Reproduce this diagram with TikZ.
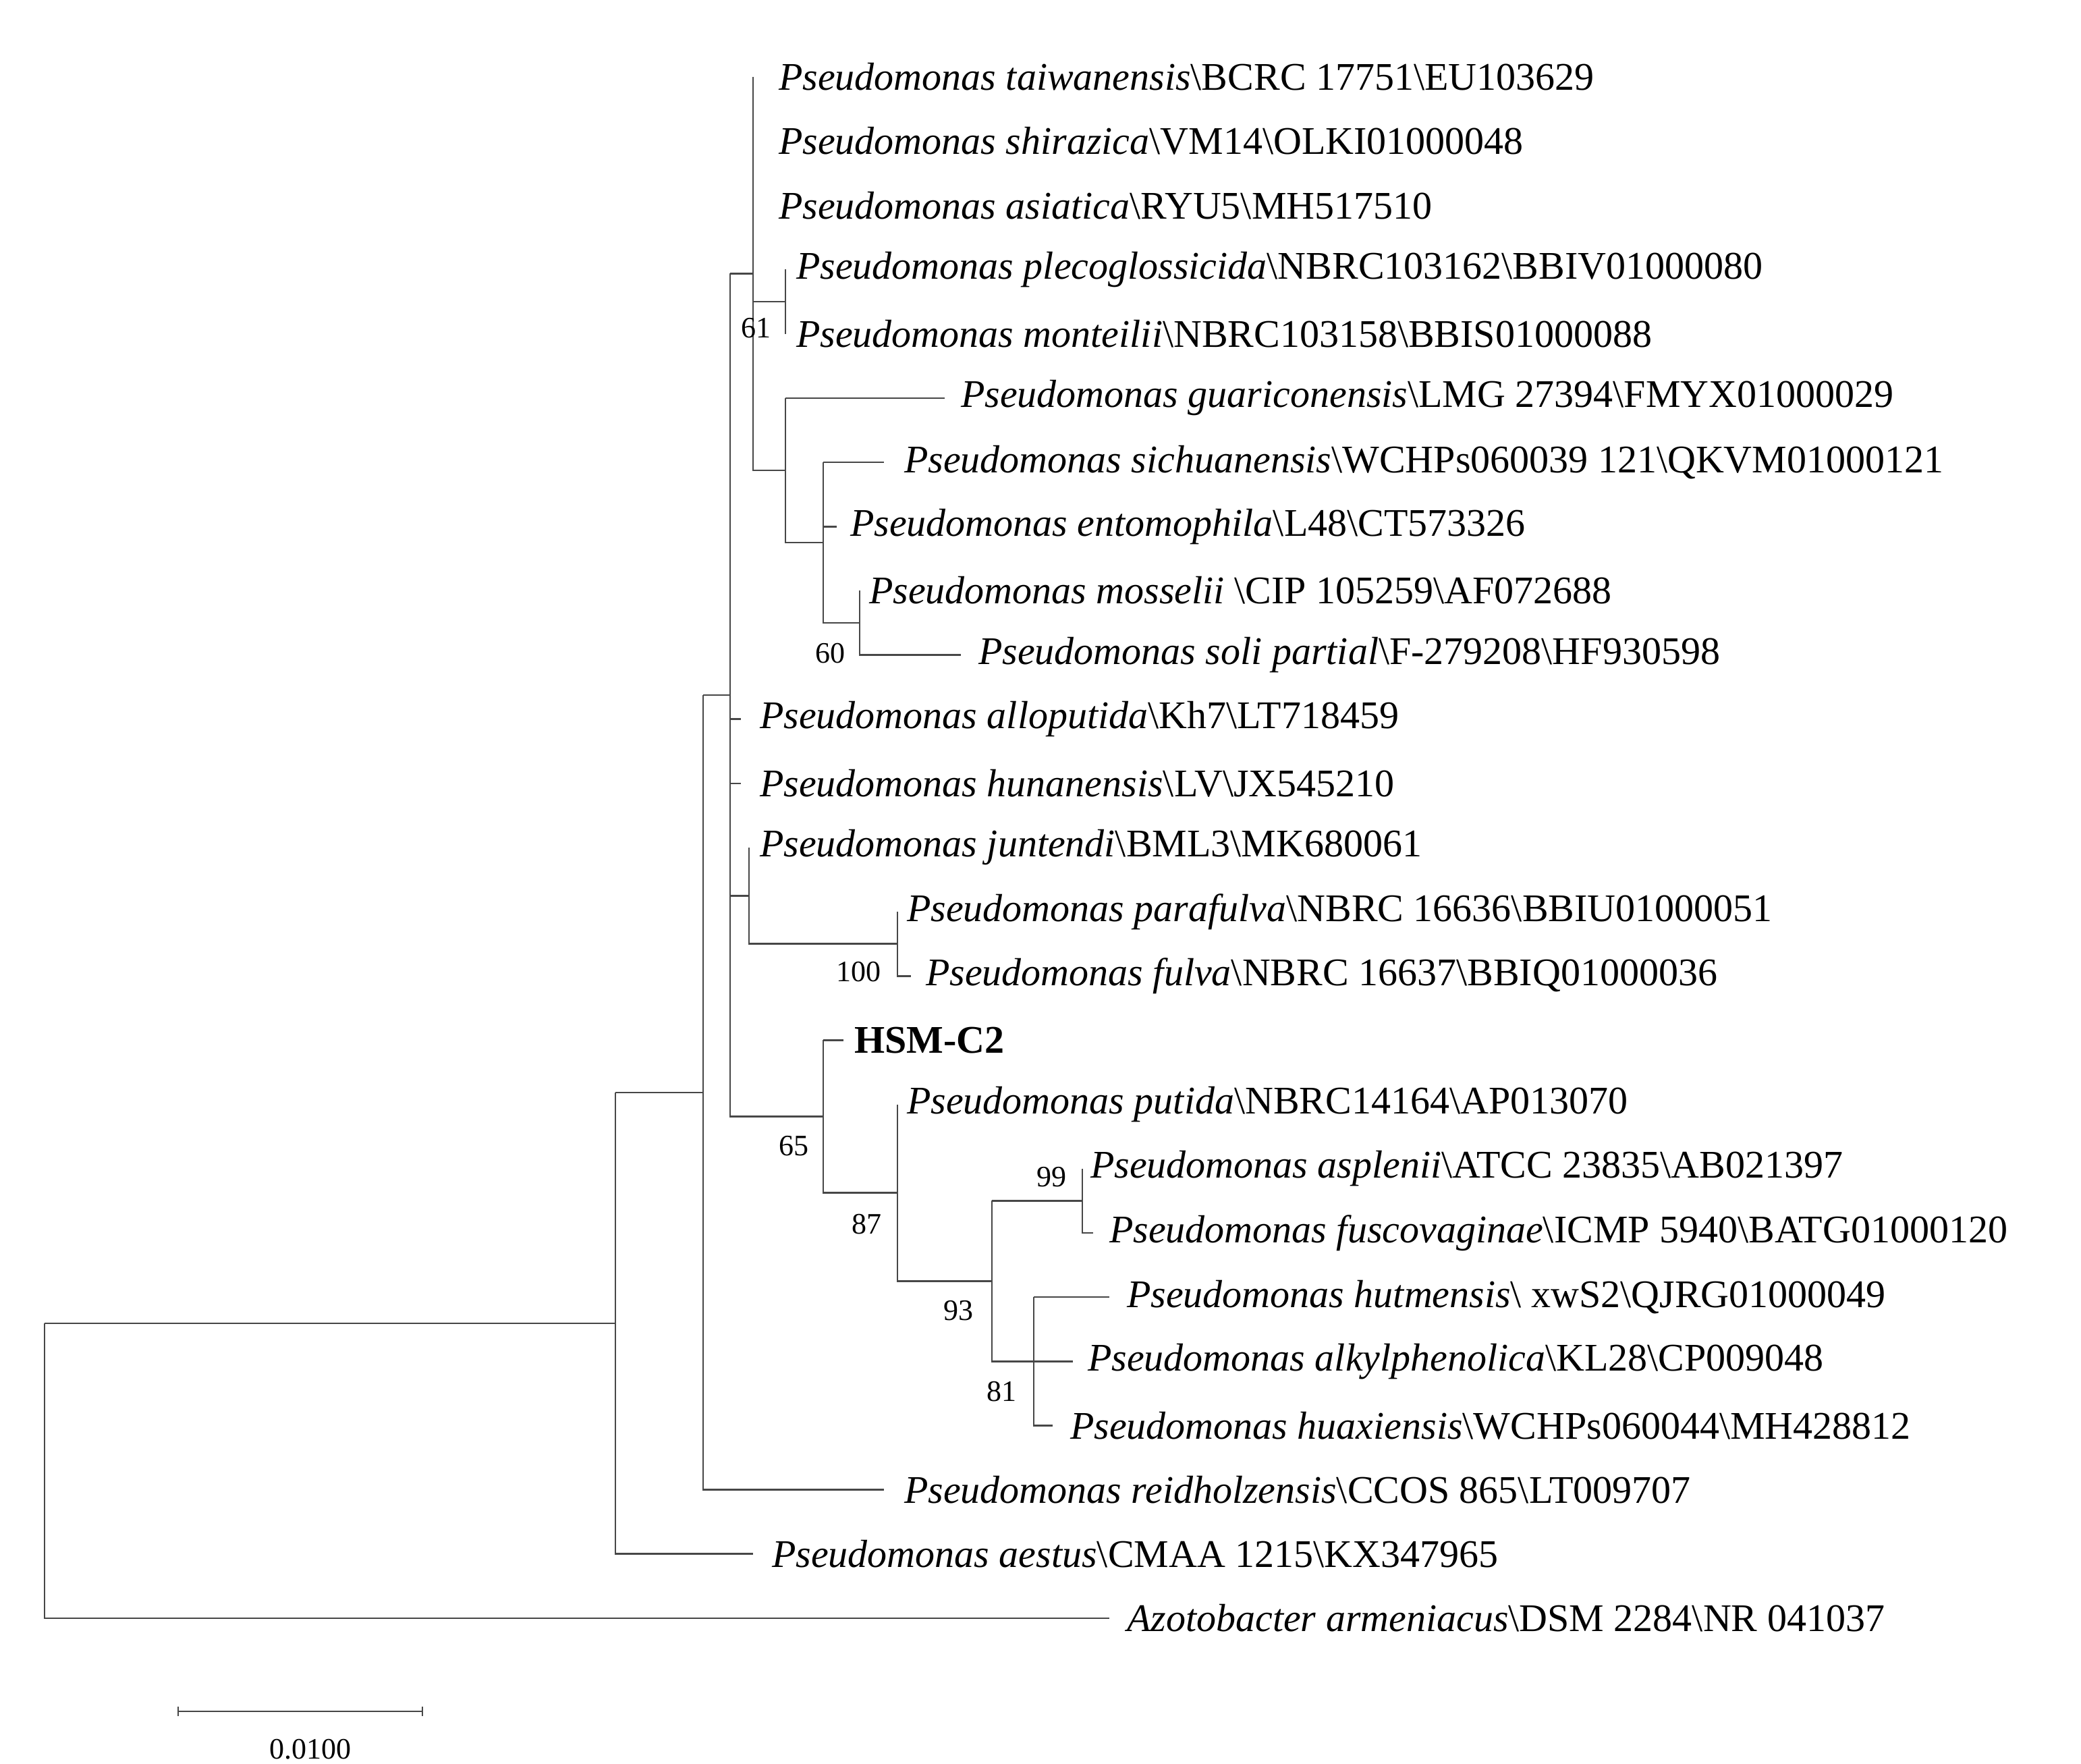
\documentclass[tikz,border=0pt]{standalone}
\usepackage{fontspec}
\setmainfont{Liberation Serif}
\newcommand{\bs}{\textbackslash}
\begin{document}
\begin{tikzpicture}[x=2pt,y=-2pt,
  br/.style={line width=2.6pt,color=black!72},
  leaf/.style={anchor=west,inner sep=0pt,font=\fontsize{58}{70}\selectfont},
  boot/.style={inner sep=0pt,font=\fontsize{44}{52}\selectfont}]
\useasboundingbox (0,0) rectangle (1542,1307);
% leaves
\node[leaf] (l0) at (577,57) {\textit{Pseudomonas taiwanensis}\bs BCRC 17751\bs EU103629};
\node[leaf] (l1) at (577,104.6) {\textit{Pseudomonas shirazica}\bs VM14\bs OLKI01000048};
\node[leaf] (l2) at (577,152.2) {\textit{Pseudomonas asiatica}\bs RYU5\bs MH517510};
\node[leaf] (l3) at (590,199.7) {\textit{Pseudomonas plecoglossicida}\bs NBRC103162\bs BBIV01000080};
\node[leaf] (l4) at (590,247.3) {\textit{Pseudomonas monteilii}\bs NBRC103158\bs BBIS01000088};
\node[leaf] (l5) at (712,294.9) {\textit{Pseudomonas guariconensis}\bs LMG 27394\bs FMYX01000029};
\node[leaf] (l6) at (670,342.5) {\textit{Pseudomonas sichuanensis}\bs WCHPs060039 121\bs QKVM01000121};
\node[leaf] (l7) at (630,390.1) {\textit{Pseudomonas entomophila}\bs L48\bs CT573326};
\node[leaf] (l8) at (644,437.6) {\textit{Pseudomonas mosselii} \bs CIP 105259\bs AF072688};
\node[leaf] (l9) at (725,485.2) {\textit{Pseudomonas soli partial}\bs F-279208\bs HF930598};
\node[leaf] (l10) at (563,532.8) {\textit{Pseudomonas alloputida}\bs Kh7\bs LT718459};
\node[leaf] (l11) at (563,580.4) {\textit{Pseudomonas hunanensis}\bs LV\bs JX545210};
\node[leaf] (l12) at (563,628.0) {\textit{Pseudomonas juntendi}\bs BML3\bs MK680061};
\node[leaf] (l13) at (672,675.5) {\textit{Pseudomonas parafulva}\bs NBRC 16636\bs BBIU01000051};
\node[leaf] (l14) at (686,723.1) {\textit{Pseudomonas fulva}\bs NBRC 16637\bs BBIQ01000036};
\node[leaf] (l15) at (633,770.7) {\textbf{HSM-C2}};
\node[leaf] (l16) at (672,818.3) {\textit{Pseudomonas putida}\bs NBRC14164\bs AP013070};
\node[leaf] (l17) at (808,865.9) {\textit{Pseudomonas asplenii}\bs ATCC 23835\bs AB021397};
\node[leaf] (l18) at (822,913.4) {\textit{Pseudomonas fuscovaginae}\bs ICMP 5940\bs BATG01000120};
\node[leaf] (l19) at (835,961.0) {\textit{Pseudomonas hutmensis}\bs\ xwS2\bs QJRG01000049};
\node[leaf] (l20) at (806,1008.6) {\textit{Pseudomonas alkylphenolica}\bs KL28\bs CP009048};
\node[leaf] (l21) at (793,1056.2) {\textit{Pseudomonas huaxiensis}\bs WCHPs060044\bs MH428812};
\node[leaf] (l22) at (670,1103.8) {\textit{Pseudomonas reidholzensis}\bs CCOS 865\bs LT009707};
\node[leaf] (l23) at (572,1151.3) {\textit{Pseudomonas aestus}\bs CMAA 1215\bs KX347965};
\node[leaf] (l24) at (835,1198.9) {\textit{Azotobacter armeniacus}\bs DSM 2284\bs NR 041037};
% internal nodes
\coordinate (R) at (33,1000);
\coordinate (D) at (456,980.4);
\coordinate (C) at (521,809.4);
\coordinate (A) at (541,515.0);
\coordinate (B) at (558,202.7);
\coordinate (P) at (582,223.5);
\coordinate (G) at (582,348.4);
\coordinate (H) at (610,402.0);
\coordinate (M) at (637,461.4);
\coordinate (J) at (555,663.7);
\coordinate (F) at (665,699.3);
\coordinate (K) at (610,827.2);
\coordinate (L) at (665,883.7);
\coordinate (N) at (735,949.1);
\coordinate (Q) at (802,889.7);
\coordinate (Rr) at (766,1008.6);
% branches
\draw[br] (R|-D) -- (R|-l24) -- (822,0|-l24);
\draw[br] (R|-D) -- (D);
\draw[br] (D|-C) -- (D|-l23) -- (558,0|-l23);
\draw[br] (D|-C) -- (C);
\draw[br] (C|-A) -- (C|-l22) -- (655,0|-l22);
\draw[br] (C|-A) -- (A);
\draw[br] (A|-B) -- (A|-K) -- (K);
\draw[br] (A|-B) -- (B);
\draw[br] (A|-l10) -- (549,0|-l10);
\draw[br] (A|-l11) -- (549,0|-l11);
\draw[br] (A|-J) -- (J);
\draw[br] (B|-l0) -- (B|-G) -- (G);
\draw[br] (B|-P) -- (P);
\draw[br] (P|-l3) -- (P|-l4);
\draw[br] (G|-l5) -- (G|-H) -- (H);
\draw[br] (G|-l5) -- (700,0|-l5);
\draw[br] (H|-l6) -- (H|-M) -- (M);
\draw[br] (H|-l6) -- (655,0|-l6);
\draw[br] (H|-l7) -- (620,0|-l7);
\draw[br] (M|-l8) -- (M|-l9) -- (712,0|-l9);
\draw[br] (J|-l12) -- (J|-F) -- (F);
\draw[br] (F|-l13) -- (F|-l14) -- (675,0|-l14);
\draw[br] (K|-l15) -- (625,0|-l15);
\draw[br] (K|-l15) -- (K|-L) -- (L);
\draw[br] (L|-l16) -- (L|-N) -- (N);
\draw[br] (N|-Q) -- (Q);
\draw[br] (N|-Q) -- (N|-Rr) -- (Rr);
\draw[br] (Q|-l17) -- (Q|-l18) -- (810,0|-l18);
\draw[br] (Rr|-l19) -- (822,0|-l19);
\draw[br] (Rr|-l19) -- (Rr|-l21) -- (780,0|-l21);
\draw[br] (Rr) -- (795,0|-l20);
% bootstrap labels
\node[boot] (b61) at (560,243) {61};
\node[boot] (b60) at (615,484) {60};
\node[boot] (b100) at (636,720) {100};
\node[boot] (b65) at (588,849) {65};
\node[boot] (b87) at (642,907) {87};
\node[boot] (b99) at (779,872) {99};
\node[boot] (b93) at (710,971) {93};
\node[boot] (b81) at (742,1031) {81};
% scale bar
\coordinate (s1) at (132,1268);
\coordinate (s2) at (313,1268);
\draw[br] (s1) -- (s2);
\draw[br] ([yshift=-7pt]s1) -- ([yshift=7pt]s1);
\draw[br] ([yshift=-7pt]s2) -- ([yshift=7pt]s2);
\node[boot] (sc) at (230,1296) {0.0100};
\end{tikzpicture}
\end{document}
